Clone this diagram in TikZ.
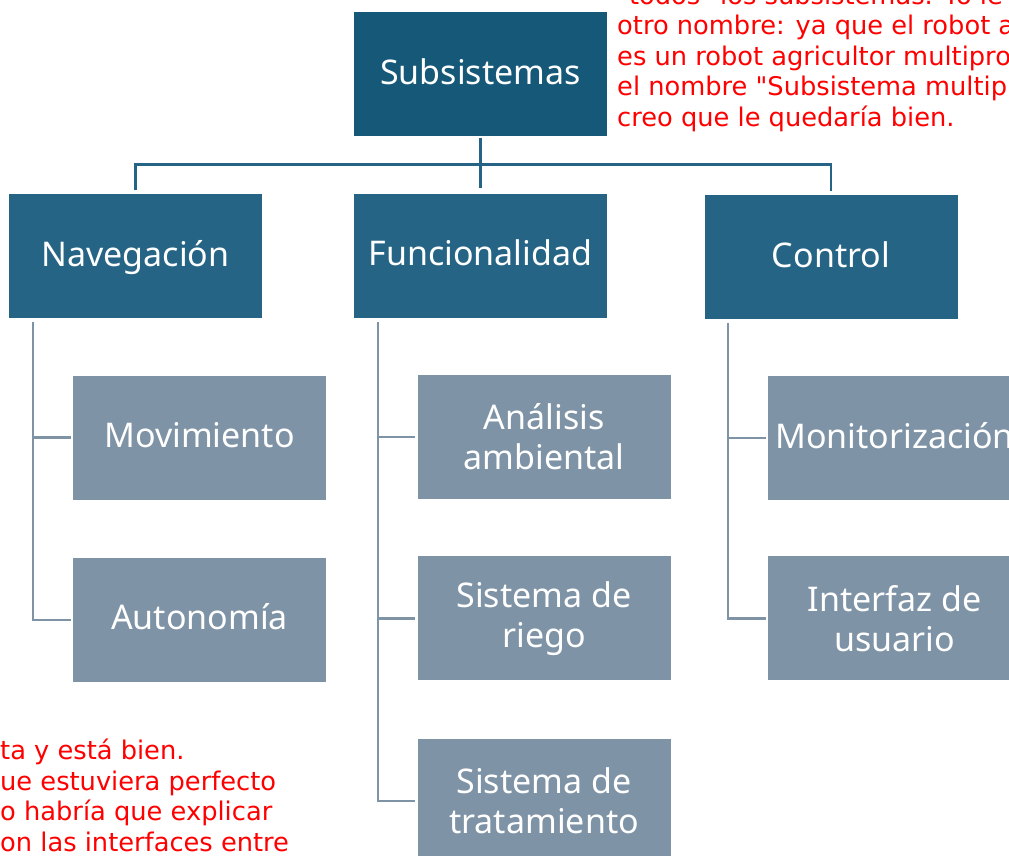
\documentclass[tikz,border=0pt]{standalone}
\usepackage{fontspec}
\setmainfont{Noto Sans}
\newfontfamily\notefont{DejaVu Sans}
\usetikzlibrary{positioning, calc}
\definecolor{subcol}{HTML}{155878}
\definecolor{areacol}{HTML}{256485}
\definecolor{leafcol}{HTML}{7F93A6}
\definecolor{notecol}{HTML}{FF0000}

\begin{document}
\begin{tikzpicture}[x=1pt, y=-1pt,
  box/.style={text=white, inner sep=0pt, minimum width=253pt, minimum height=124pt,
              align=center, font=\fontsize{34}{40}\selectfont},
  oneline/.style={text height=26pt, text depth=6pt},
  root/.style={box, fill=subcol},
  area/.style={box, fill=areacol},
  leaf/.style={box, fill=leafcol},
  trunk/.style={draw=areacol, line width=2.8pt},
  branch/.style={draw=leafcol, line width=2.2pt},
  note/.style={text=notecol, inner sep=0pt, align=left,
               font=\notefont\fontsize{25.7}{30.5}\selectfont}]
\useasboundingbox (0,0) rectangle (1009,855);
\clip (0,0) rectangle (1009,855);
%
\node[root, oneline] (sub) at (480.5,74) {Subsistemas};
%
\node[area, oneline] (nav) at (135.5,256) {Navegación};
\node[area, oneline] (fun) at (480.5,255.5) {Funcionalidad};
\node[area, oneline] (ctl) at (831,257) {Control};
%
\node[leaf, oneline] (mov) at (199.5,437.5) {Movimiento};
\node[leaf, oneline, below=58pt of mov] (aut) {Autonomía};
\node[leaf] (ana) at (544,437) {Análisis\\ambiental};
\node[leaf, below=57pt of ana] (rie) {Sistema de\\riego};
\node[leaf, below=58pt of rie] (tra) {Sistema de\\tratamiento};
\node[leaf, oneline] (mon) at (894.5,438) {Monitorización};
\node[leaf, below=56pt of mon] (int) {Interfaz de\\usuario};
%
\draw[trunk, shorten <=2pt, shorten >=5pt] (sub) -- (fun);
\draw[trunk, shorten <=4pt, shorten >=4pt]
  (nav.north) |- ($(sub.south)!.5!(fun.north)$) -| (ctl.north);
%
\coordinate (navrail) at ([xshift=24pt, yshift=-4pt]nav.south west);
\coordinate (funrail) at ([xshift=24pt, yshift=-4pt]fun.south west);
\coordinate (ctlrail) at ([xshift=24pt, yshift=-4pt]ctl.south west);
\draw[branch] (navrail) |- ([xshift=-2pt]aut.west);
\draw[branch] (navrail |- mov.west) -- ([xshift=-2pt]mov.west);
\draw[branch] (funrail) |- ([xshift=-2pt]tra.west);
\draw[branch] (funrail |- ana.west) -- ([xshift=-2pt]ana.west);
\draw[branch] (funrail |- rie.west) -- ([xshift=-2pt]rie.west);
\draw[branch] (ctlrail) |- ([xshift=-2pt]int.west);
\draw[branch] (ctlrail |- mon.west) -- ([xshift=-2pt]mon.west);
%
\node[note, anchor=south west] (nombre) at (617,131.9)
  {"todos" los subsistemas. Yo le\\
   otro nombre: ya que el robot a\\
   es un robot agricultor multipro\\
   el nombre "Subsistema multip\\
   creo que le quedaría bien.};
\node[note, anchor=south west] (interfaces) at (0,852)
  {ta y está bien.\\
   ue estuviera perfecto\\
   o habría que explicar\\
   on las interfaces entre};
\end{tikzpicture}
\end{document}
